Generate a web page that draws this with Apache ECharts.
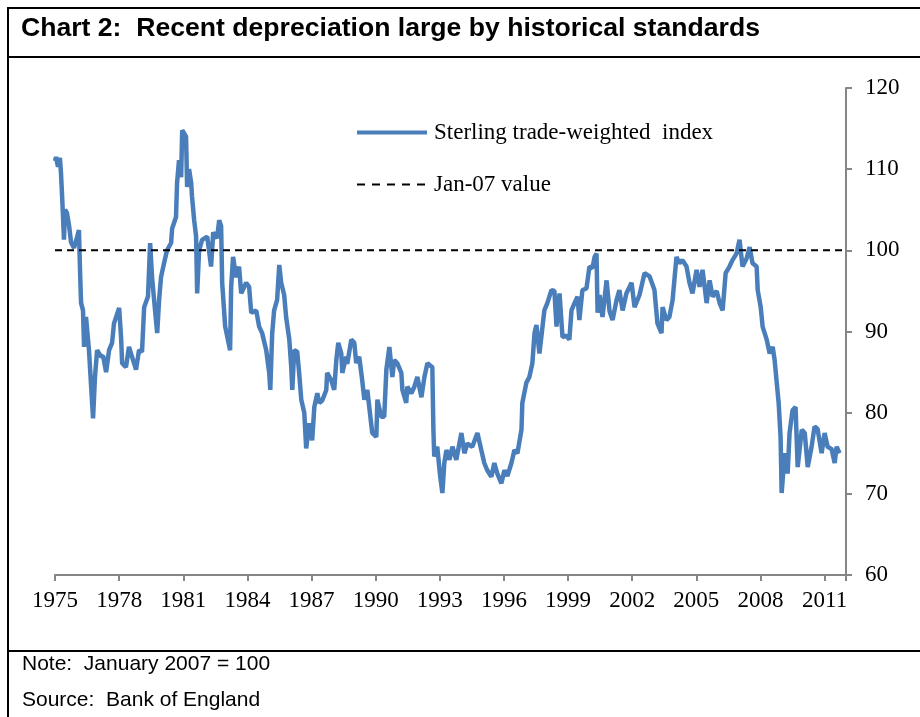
<!DOCTYPE html>
<html>
<head>
<meta charset="utf-8">
<script src="https://cdn.jsdelivr.net/npm/echarts@6/dist/echarts.min.js"></script>
<style>
  html, body { margin: 0; padding: 0; background: #fff; }
  #chart { width: 920px; height: 717px; }
</style>
</head>
<body>
<div id="chart"></div>
<script>
// Sterling trade-weighted index (Jan 2007 = 100)
const years = [
  1975.00, 1975.05, 1975.14, 1975.23, 1975.28, 1975.33, 1975.37, 1975.42, 1975.47, 1975.56,
  1975.66, 1975.75, 1975.89, 1976.03, 1976.12, 1976.17, 1976.22, 1976.31, 1976.36, 1976.45,
  1976.59, 1976.69, 1976.78, 1976.87, 1976.97, 1977.15, 1977.25, 1977.39, 1977.53, 1977.67,
  1977.76, 1978.00, 1978.09, 1978.14, 1978.32, 1978.46, 1978.60, 1978.79, 1978.93, 1979.07,
  1979.17, 1979.35, 1979.45, 1979.54, 1979.68, 1979.78, 1979.87, 1979.96, 1980.10, 1980.24,
  1980.43, 1980.48, 1980.66, 1980.71, 1980.80, 1980.90, 1980.95, 1981.13, 1981.18, 1981.27,
  1981.37, 1981.41, 1981.51, 1981.60, 1981.65, 1981.74, 1981.88, 1982.12, 1982.30, 1982.40,
  1982.58, 1982.68, 1982.77, 1982.82, 1982.96, 1983.19, 1983.24, 1983.33, 1983.47, 1983.61,
  1983.71, 1983.94, 1984.08, 1984.18, 1984.41, 1984.55, 1984.69, 1984.88, 1985.02, 1985.07,
  1985.16, 1985.25, 1985.39, 1985.49, 1985.58, 1985.72, 1985.81, 1985.96, 1986.05, 1986.10,
  1986.19, 1986.33, 1986.42, 1986.52, 1986.66, 1986.75, 1986.89, 1987.03, 1987.13, 1987.27,
  1987.36, 1987.50, 1987.69, 1987.73, 1987.92, 1988.06, 1988.16, 1988.25, 1988.39, 1988.44,
  1988.62, 1988.67, 1988.86, 1989.00, 1989.09, 1989.23, 1989.37, 1989.47, 1989.61, 1989.70,
  1989.84, 1990.03, 1990.08, 1990.26, 1990.40, 1990.50, 1990.64, 1990.78, 1990.87, 1991.01,
  1991.20, 1991.25, 1991.43, 1991.48, 1991.67, 1991.81, 1991.95, 1992.14, 1992.28, 1992.42,
  1992.65, 1992.70, 1992.74, 1992.88, 1993.02, 1993.12, 1993.21, 1993.31, 1993.45, 1993.59,
  1993.77, 1994.01, 1994.15, 1994.29, 1994.52, 1994.76, 1994.94, 1995.08, 1995.22, 1995.41,
  1995.55, 1995.69, 1995.88, 1996.02, 1996.16, 1996.35, 1996.49, 1996.63, 1996.82, 1996.86,
  1997.05, 1997.19, 1997.33, 1997.43, 1997.52, 1997.66, 1997.89, 1998.03, 1998.22, 1998.36,
  1998.46, 1998.60, 1998.74, 1998.92, 1999.06, 1999.16, 1999.30, 1999.44, 1999.53, 1999.67,
  1999.86, 2000.00, 2000.14, 2000.24, 2000.33, 2000.38, 2000.47, 2000.61, 2000.80, 2000.94,
  2001.08, 2001.27, 2001.40, 2001.55, 2001.73, 2001.97, 2002.11, 2002.34, 2002.58, 2002.81,
  2003.04, 2003.18, 2003.37, 2003.42, 2003.60, 2003.74, 2003.89, 2004.07, 2004.21, 2004.35,
  2004.54, 2004.68, 2004.82, 2005.01, 2005.15, 2005.29, 2005.48, 2005.62, 2005.76, 2005.95,
  2006.09, 2006.23, 2006.37, 2006.55, 2006.69, 2006.88, 2007.02, 2007.16, 2007.35, 2007.49,
  2007.63, 2007.82, 2007.87, 2008.01, 2008.10, 2008.29, 2008.43, 2008.57, 2008.66, 2008.76,
  2008.85, 2008.94, 2008.99, 2009.13, 2009.27, 2009.36, 2009.50, 2009.64, 2009.74, 2009.93,
  2010.07, 2010.21, 2010.39, 2010.53, 2010.67, 2010.86, 2011.00, 2011.14, 2011.33, 2011.47,
  2011.56, 2011.70
]
const sterlingIndex = [
  111.0, 111.5, 110.3, 111.4, 109.5, 106.8, 104.5, 101.3, 105.0, 104.6,
  103.0, 101.0, 100.3, 101.6, 102.5, 97.6, 93.5, 92.6, 88.1, 91.8,
  87.7, 83.2, 79.3, 84.4, 87.7, 86.9, 87.0, 85.0, 87.7, 88.6,
  91.0, 92.9, 89.3, 86.1, 85.6, 88.1, 86.9, 85.3, 87.7, 87.5,
  93.0, 94.3, 100.9, 96.7, 92.6, 89.8, 93.9, 96.7, 98.4, 100.0,
  100.9, 102.7, 104.1, 108.3, 111.1, 109.0, 114.8, 114.0, 107.8, 110.0,
  108.3, 106.6, 103.7, 101.7, 94.7, 100.0, 101.3, 101.7, 98.0, 102.2,
  101.5, 103.7, 103.0, 96.0, 90.6, 87.7, 95.5, 99.2, 96.7, 98.0,
  94.7, 96.0, 95.5, 92.3, 92.6, 90.6, 89.8, 87.7, 84.9, 82.8,
  89.8, 92.6, 93.9, 98.2, 96.0, 94.5, 91.8, 89.0, 85.6, 82.8,
  87.7, 87.5, 84.9, 81.6, 80.0, 75.6, 78.7, 76.6, 80.7, 82.4,
  81.2, 81.5, 82.8, 84.9, 84.0, 82.8, 86.5, 88.6, 87.3, 84.9,
  86.9, 86.0, 89.0, 88.6, 86.1, 86.9, 84.0, 81.6, 82.8, 80.7,
  77.5, 77.0, 81.6, 79.5, 79.5, 85.3, 88.1, 84.4, 86.5, 86.1,
  84.9, 82.8, 81.2, 83.2, 82.4, 83.2, 84.4, 81.9, 84.4, 86.1,
  85.6, 77.9, 74.6, 75.8, 72.1, 70.1, 73.8, 75.4, 74.2, 75.8,
  74.2, 77.5, 75.0, 76.2, 75.8, 77.5, 75.4, 73.8, 72.9, 72.1,
  73.8, 72.5, 71.3, 72.9, 72.2, 73.8, 75.4, 75.0, 77.9, 81.2,
  83.7, 84.4, 86.1, 89.8, 90.8, 87.3, 92.6, 93.5, 95.1, 95.0,
  90.6, 94.7, 89.3, 89.5, 89.0, 92.6, 93.5, 94.3, 91.4, 95.1,
  95.3, 98.0, 97.8, 99.2, 99.6, 92.3, 94.5, 91.8, 96.3, 92.5,
  91.4, 93.9, 95.1, 92.6, 94.7, 96.0, 93.0, 94.5, 97.2, 96.8,
  95.1, 91.0, 89.8, 93.0, 91.4, 91.8, 93.9, 99.2, 98.4, 98.8,
  98.0, 96.0, 94.7, 97.6, 95.5, 97.6, 93.5, 96.3, 94.3, 95.0,
  93.5, 92.6, 97.2, 98.0, 98.8, 99.6, 101.3, 98.0, 99.0, 100.4,
  98.4, 98.0, 95.1, 93.0, 90.6, 89.0, 87.3, 88.1, 86.5, 83.7,
  81.2, 77.0, 70.1, 75.0, 72.5, 77.5, 80.3, 80.7, 73.3, 77.9,
  77.5, 73.3, 75.8, 78.3, 78.0, 75.0, 77.5, 75.8, 75.5, 73.8,
  75.8, 75.0
]
const jan07Years = [1975, 2012]
const jan07Value = [100, 100]

const chart = echarts.init(document.getElementById('chart'), null, { renderer: 'canvas' })
const serif = 'Liberation Serif'
const sans = 'Liberation Sans'
const axisGrey = '#868686'
const blue = '#4a7ebb'

chart.setOption({
    animation: false,
    backgroundColor: '#fff',
    title: [
        {
            text: 'Chart 2:  Recent depreciation large by historical standards',
            left: 21, top: 15, padding: 0,
            textStyle: { fontFamily: sans, fontWeight: 'bold', fontSize: 26.6, color: '#000' }
        },
        {
            text: 'Note:  January 2007 = 100',
            left: 22, top: 654, padding: 0,
            textStyle: { fontFamily: sans, fontWeight: 'normal', fontSize: 21, color: '#000' }
        },
        {
            text: 'Source:  Bank of England',
            left: 22, top: 690, padding: 0,
            textStyle: { fontFamily: sans, fontWeight: 'normal', fontSize: 21, color: '#000' }
        }
    ],
    graphic: [
        { type: 'rect', shape: { x: 8, y: 8, width: 940, height: 740 }, style: { fill: 'none', stroke: '#000', lineWidth: 2 } },
        { type: 'line', shape: { x1: 8, y1: 57, x2: 920, y2: 57 }, style: { stroke: '#000', lineWidth: 2 } },
        { type: 'line', shape: { x1: 8, y1: 651, x2: 920, y2: 651 }, style: { stroke: '#000', lineWidth: 2 } }
    ],
    legend: {
        orient: 'vertical',
        left: 355, top: 121, padding: 0,
        itemWidth: 70, itemHeight: 14, itemGap: 29,
        itemStyle: { opacity: 0 },
        textStyle: { fontFamily: serif, fontSize: 23, color: '#000', padding: [0, 0, 0, 2] },
        data: [
            { name: 'Sterling trade-weighted  index', lineStyle: { color: blue, width: 4 } },
            { name: 'Jan-07 value', lineStyle: { color: '#000', width: 2, type: [8, 7] } }
        ]
    },
    grid: { left: 55, right: 74, top: 88, bottom: 142 },
    xAxis: {
        type: 'value',
        min: 1975, max: 2012, interval: 3,
        axisLine: { lineStyle: { color: axisGrey, width: 2 } },
        axisTick: { length: 6, lineStyle: { color: axisGrey, width: 2 } },
        splitLine: { show: false },
        axisLabel: {
            margin: 14,
            fontFamily: serif, fontSize: 23, color: '#000',
            formatter: (v) => ((v - 1975) % 3 === 0 ? String(v) : '')
        }
    },
    yAxis: {
        type: 'value',
        position: 'right',
        min: 60, max: 120, interval: 10,
        axisLine: { show: true, lineStyle: { color: axisGrey, width: 2 } },
        axisTick: { show: true, length: 6, lineStyle: { color: axisGrey, width: 2 } },
        splitLine: { show: false },
        axisLabel: { margin: 19, fontFamily: serif, fontSize: 23, color: '#000' }
    },
    series: [
        {
            name: 'Sterling trade-weighted  index',
            type: 'line',
            symbol: 'none',
            data: years.map((y, i) => [y, sterlingIndex[i]]),
            lineStyle: { color: blue, width: 4.5 },
            itemStyle: { color: blue }
        },
        {
            name: 'Jan-07 value',
            type: 'line',
            symbol: 'none',
            data: jan07Years.map((y, i) => [y, jan07Value[i]]),
            lineStyle: { color: '#000', width: 2, type: [7, 5] },
            itemStyle: { color: '#000' }
        }
    ]
})
</script>
</body>
</html>
